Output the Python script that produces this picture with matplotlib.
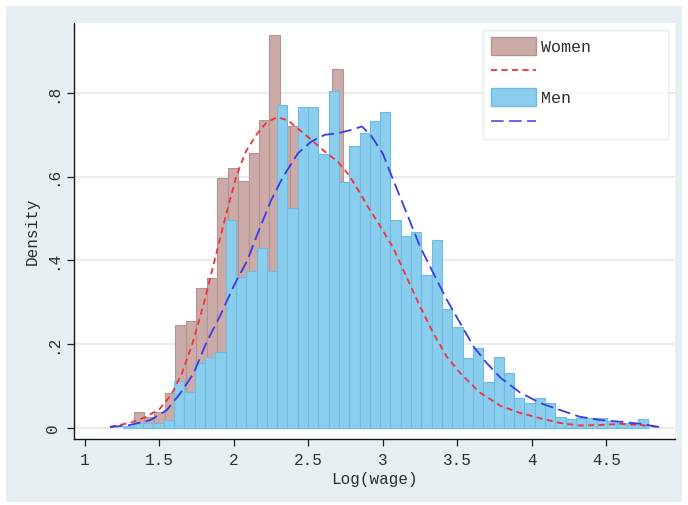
import matplotlib
matplotlib.use("Agg")
import matplotlib.pyplot as plt
from matplotlib.patches import Rectangle, Patch
from matplotlib.lines import Line2D
import numpy as np

# histogram bins (log wage)
men_start = 1.252
men_width = 0.0692
men_density = [0.005, 0.011, 0.012, 0.012, 0.019, 0.111, 0.087, 0.154, 0.169, 0.181,
               0.497, 0.361, 0.376, 0.429, 0.376, 0.771, 0.525, 0.766, 0.766, 0.654,
               0.805, 0.587, 0.673, 0.704, 0.734, 0.755, 0.497, 0.459, 0.467, 0.365,
               0.449, 0.283, 0.242, 0.166, 0.192, 0.109, 0.170, 0.131, 0.072, 0.060,
               0.072, 0.060, 0.027, 0.021, 0.025, 0.024, 0.023, 0.016, 0.012, 0.011,
               0.021]

women_start = 1.3257
women_width = 0.0702
women_density = [0.037, 0.026, 0.037, 0.083, 0.246, 0.256, 0.335, 0.359, 0.598, 0.620,
                 0.590, 0.656, 0.736, 0.938, 0.720, 0.720, 0.700, 0.620, 0.600, 0.857,
                 0.550, 0.500, 0.460, 0.420, 0.400, 0.360, 0.310, 0.270, 0.220, 0.170,
                 0.140, 0.110, 0.090, 0.070, 0.060, 0.045, 0.040, 0.030, 0.025, 0.020,
                 0.015, 0.012, 0.008, 0.010, 0.012, 0.010]

# kernel density lines
women_kx = [1.168, 1.30, 1.40, 1.50, 1.58, 1.65, 1.72, 1.80, 1.87, 1.94, 2.015, 2.08,
            2.15, 2.22, 2.29, 2.36, 2.43, 2.52, 2.61, 2.70, 2.77, 2.84, 2.90, 2.97,
            3.07, 3.16, 3.25, 3.34, 3.43, 3.52, 3.65, 3.79, 3.92, 4.06, 4.19, 4.32,
            4.46, 4.59, 4.73, 4.86]
women_ky = [0.003, 0.012, 0.025, 0.045, 0.08, 0.13, 0.20, 0.30, 0.40, 0.50, 0.60, 0.66,
            0.70, 0.73, 0.742, 0.735, 0.715, 0.688, 0.66, 0.635, 0.605, 0.565, 0.528, 0.489,
            0.43, 0.36, 0.29, 0.226, 0.17, 0.131, 0.085, 0.053, 0.036, 0.023, 0.012, 0.006,
            0.007, 0.010, 0.007, 0.002]

men_kx = [1.168, 1.30, 1.44, 1.55, 1.64, 1.73, 1.81, 1.91, 2.00, 2.09, 2.16, 2.25, 2.33,
          2.43, 2.52, 2.61, 2.70, 2.79, 2.86, 2.925, 3.00, 3.07, 3.16, 3.25, 3.34, 3.43,
          3.52, 3.61, 3.70, 3.79, 3.92, 4.06, 4.19, 4.32, 4.46, 4.59, 4.73, 4.86]
men_ky = [0.002, 0.007, 0.019, 0.043, 0.083, 0.131, 0.20, 0.27, 0.34, 0.40, 0.465, 0.544, 0.60,
          0.656, 0.684, 0.70, 0.704, 0.712, 0.72, 0.696, 0.655, 0.592, 0.513, 0.433, 0.369, 0.306,
          0.25, 0.194, 0.154, 0.12, 0.085, 0.059, 0.043, 0.027, 0.019, 0.015, 0.010, 0.002]

xticks = [1, 1.5, 2, 2.5, 3, 3.5, 4, 4.5]
xticklabels = ["1", "1.5", "2", "2.5", "3", "3.5", "4", "4.5"]
yticks = [0, 0.2, 0.4, 0.6, 0.8]
yticklabels = ["0", ".2", ".4", ".6", ".8"]

font = "Liberation Mono"
textcol = "#2e2e2e"
bg = "#e6eff1"
gridcol = "#e0eaed"
women_face, women_edge = "#cbaba7", "#b8948f"
men_face, men_edge = "#8acded", "#6cbde6"
red = "#f0323c"
blue = "#3b3be6"

W, H = 688, 505
fig = plt.figure(figsize=(W / 100, H / 100), dpi=100)
fig.patch.set_facecolor("white")
fig.patches.append(Rectangle((6 / W, 3 / H), 676 / W, 496 / H, transform=fig.transFigure,
                             facecolor=bg, edgecolor="none", zorder=-10))

ax = fig.add_axes([74 / W, (H - 439) / H, 601 / W, 416 / H])
ax.set_facecolor("white")

men_left = men_start + men_width * np.arange(len(men_density))
women_left = women_start + women_width * np.arange(len(women_density))

ax.bar(women_left, women_density, width=women_width, align="edge",
       color=women_face, edgecolor=women_edge, linewidth=0.8, zorder=2)
ax.bar(men_left, men_density, width=men_width, align="edge",
       color=men_face, edgecolor=men_edge, linewidth=0.8, zorder=3)
ax.plot(women_kx, women_ky, color=red, lw=1.3, dashes=(3.4, 2.4), zorder=4)
ax.plot(men_kx, men_ky, color=blue, lw=1.3, dashes=(7.0, 3.0), zorder=5)

ax.set_xlim(0.926, 4.962)
ax.set_ylim(-0.0263, 0.967)
ax.set_xticks(xticks)
ax.set_xticklabels(xticklabels)
ax.set_yticks(yticks)
ax.set_yticklabels(yticklabels, rotation=90, va="center")
for lab in ax.get_xticklabels() + ax.get_yticklabels():
    lab.set_fontfamily(font)
    lab.set_fontsize(11.5)
    lab.set_color(textcol)
ax.tick_params(axis="both", length=5, width=0.9, color="#202020", pad=5)

ax.grid(axis="y", color=gridcol, lw=1.2, zorder=0)
ax.set_axisbelow(True)
for s in ["top", "right"]:
    ax.spines[s].set_visible(False)
for s in ["left", "bottom"]:
    ax.spines[s].set_linewidth(1.0)
    ax.spines[s].set_color("#151515")

ax.set_xlabel("Log(wage)", fontfamily=font, fontsize=11.5, color=textcol, labelpad=3)
ax.set_ylabel("Density", fontfamily=font, fontsize=11.5, color=textcol, labelpad=4)

handles = [Patch(facecolor=women_face, edgecolor=women_edge),
           Line2D([], [], color=red, lw=1.3, dashes=(3.4, 2.4)),
           Patch(facecolor=men_face, edgecolor=men_edge),
           Line2D([], [], color="#5a5af0", lw=1.3, dashes=(7.0, 3.0))]
leg = fig.legend(handles, ["Women", "", "Men", ""], loc="upper left",
                 bbox_to_anchor=(483 / W, 1 - 30 / H, 185 / W, 0), mode="expand",
                 prop={"family": font, "size": 12}, handlelength=2.75, handleheight=1.2,
                 handletextpad=0.3, labelspacing=0.5, borderpad=0.45,
                 fancybox=False, frameon=True, borderaxespad=0)
leg.get_frame().set_edgecolor("#dde8ea")
leg.get_frame().set_linewidth(1.0)
for t in leg.get_texts():
    t.set_color(textcol)

fig.savefig("out.png", dpi=100, facecolor=fig.get_facecolor())
